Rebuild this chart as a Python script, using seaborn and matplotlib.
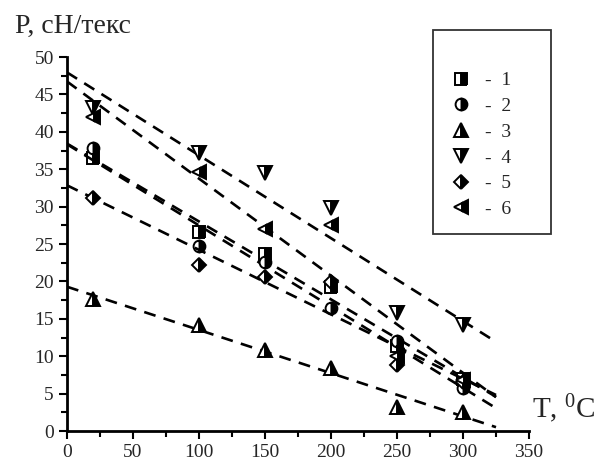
import numpy as np
import pandas as pd
import seaborn as sns
import matplotlib.pyplot as plt
from matplotlib.ticker import MultipleLocator
from matplotlib.patches import Rectangle

# ====== data ======
temp = [20, 100, 150, 200, 250, 300]
p1 = [36.5, 26.6, 23.6, 19.3, 11.3, 7.0]
p2 = [37.8, 24.7, 22.6, 16.4, 12.0, 5.8]
p3 = [17.6, 14.2, 10.8, 8.4, 3.2, 2.6]
p4 = [43.2, 37.1, 34.5, 29.8, 15.8, 14.2]
p5 = [31.1, 22.2, 20.6, 19.9, 8.8, 6.5]
p6 = [42.0, 34.6, 27.0, 27.5, 10.0, 6.8]
series_names = ['1', '2', '3', '4', '5', '6']
markers = ['s', 'o', '^', 'v', 'D', '<']
msizes = [8, 8.5, 9.5, 9.5, 7.5, 9.5]
fit_end = 325

df = pd.DataFrame({'T': temp * 6,
                   'P': p1 + p2 + p3 + p4 + p5 + p6,
                   'series': sum([[s] * len(temp) for s in series_names], [])})

sns.set_theme(style='ticks')
plt.rcParams['font.family'] = ['Liberation Serif', 'DejaVu Serif']
plt.rcParams['mathtext.fontset'] = 'custom'
plt.rcParams['mathtext.rm'] = 'Liberation Serif'

fig = plt.figure(figsize=(6.01, 4.63), dpi=100)
ax = fig.add_axes([67 / 601, 1 - 431 / 463, 462 / 601, 374 / 463])

handles = []
for s, m, ms in zip(series_names, markers, msizes):
    d = df[df['series'] == s]
    # linear fit, drawn dashed
    k, b = np.polyfit(d['T'], d['P'], 1)
    xs = np.array([0, fit_end])
    sns.lineplot(x=xs, y=k * xs + b, ax=ax, color='black', lw=1.9,
                 dashes=False, linestyle=(0, (4.5, 3.2)), legend=False)
    sns.lineplot(data=d, x='T', y='P', ax=ax, color='black', linestyle='',
                 marker=m, markersize=ms, fillstyle='right',
                 markerfacecolor='black', markerfacecoloralt='white',
                 markeredgecolor='black', markeredgewidth=1.4, legend=False)
    handles.append(ax.lines[-1])

ax.set_xlim(0, 350)
ax.set_ylim(0, 50)
ax.xaxis.set_major_locator(MultipleLocator(50))
ax.xaxis.set_minor_locator(MultipleLocator(25))
ax.yaxis.set_major_locator(MultipleLocator(5))
ax.yaxis.set_minor_locator(MultipleLocator(2.5))
ax.tick_params(which='major', length=6, width=1.5, labelsize=14, color='black')
ax.tick_params(which='minor', length=4, width=1.5, color='black')
for sp in ['top', 'right']:
    ax.spines[sp].set_visible(False)
for sp in ['left', 'bottom']:
    ax.spines[sp].set_linewidth(2)
    ax.spines[sp].set_color('black')
ax.set_xlabel('')
ax.set_ylabel('')

fig.text(15 / 601, 1 - 33 / 463, 'P, cH/текс', fontsize=20, ha='left', va='baseline')
fig.text(532 / 601, 1 - 418 / 463, r'T, $\mathregular{^0}$C', fontsize=21, ha='left', va='baseline')

# legend box
fig.add_artist(Rectangle((433 / 601, 1 - 234 / 463), 118 / 601, 204 / 463,
                         transform=fig.transFigure, fill=False,
                         edgecolor='#333333', lw=1.3))
leg = ax.legend(handles, ['-  ' + s for s in series_names], loc='upper left',
                bbox_to_anchor=(440 / 601, 1 - 62 / 463), bbox_transform=fig.transFigure,
                frameon=False, fontsize=14, labelspacing=0.42, handletextpad=0.6,
                handlelength=1.2, borderpad=0)

fig.savefig('out.png', dpi=100)
